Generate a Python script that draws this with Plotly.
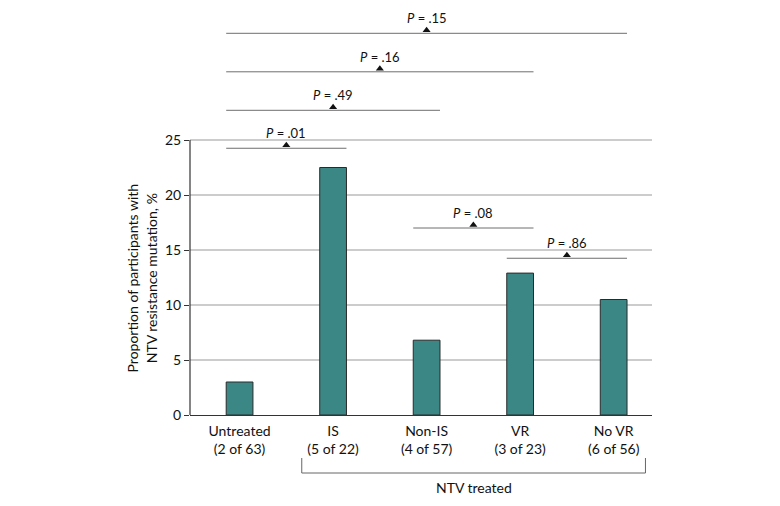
import plotly.graph_objects as go

categories = ["Untreated", "IS", "Non-IS", "VR", "No VR"]
counts = ["2 of 63", "5 of 22", "4 of 57", "3 of 23", "6 of 56"]
values = [3.0, 22.5, 6.8, 12.9, 10.5]

# comparisons: (left category index, right category index, bracket height, label)
comp_left = [0, 0, 0, 0, 2, 3]
comp_right = [1, 2, 3, 4, 3, 4]
comp_level = [24.25, 27.7, 31.2, 34.7, 17.0, 14.25]
comp_label = ["P = .01", "P = .49", "P = .16", "P = .15", "P = .08", "P = .86"]

y_ticks = [0, 5, 10, 15, 20, 25]
y_title = "Proportion of participants with<br>NTV resistance mutation, %"
group_label = "NTV treated"
group_first, group_last = 1, 4

FONT = "Lato, 'Open Sans', sans-serif"
BAR = "#3b8785"
BW = 0.286
XMIN, XMAX = -0.53, 4.41
YMAX = 400 / 11

xs = list(range(len(categories)))
fig = go.Figure()
fig.add_trace(go.Bar(x=xs, y=values, width=BW, marker=dict(color=BAR, line=dict(color="#2a2a2a", width=1)),
                     hoverinfo="skip"))

for l, r, lev, lab in zip(comp_left, comp_right, comp_level, comp_label):
    x0, x1 = l - BW / 2, r + BW / 2
    mid = (x0 + x1) / 2
    fig.add_trace(go.Scatter(x=[x0, x1], y=[lev, lev], mode="lines",
                             line=dict(color="#6e6e6e", width=1), hoverinfo="skip"))
    fig.add_trace(go.Scatter(x=[mid], y=[lev + 0.27], mode="markers",
                             marker=dict(symbol="triangle-up", size=7, color="#111"),
                             cliponaxis=False, hoverinfo="skip"))
    p, rest = lab.split(" ", 1)
    fig.add_annotation(x=mid, y=lev, yshift=15, text=f"<i>{p}</i> {rest}", showarrow=False,
                       font=dict(size=13, color="#111", family=FONT), xanchor="center", yanchor="middle")

# y axis line from 0 to 25 only
fig.add_shape(type="line", xref="paper", yref="paper", x0=0, x1=0, y0=0, y1=y_ticks[-1] / YMAX,
              line=dict(color="#333", width=1.2))

# NTV treated bracket
def px(v):
    return (v - XMIN) / (XMAX - XMIN)

gx0, gx1 = px(group_first - 0.335), px(group_last + 0.34)
ytop, ybot = -0.1075, -0.145
fig.add_shape(type="path", xref="paper", yref="paper",
              path=f"M {gx0} {ytop} L {gx0} {ybot} L {gx1} {ybot} L {gx1} {ytop}",
              line=dict(color="#666", width=1))
fig.add_annotation(xref="paper", yref="paper", x=(gx0 + gx1) / 2, y=-0.18, text=group_label,
                   showarrow=False, font=dict(size=14, color="#111", family=FONT), yanchor="middle")

fig.add_annotation(xref="paper", yref="y", x=-0.104, y=12.5, text=y_title, textangle=-90,
                   showarrow=False, font=dict(size=14, color="#111", family=FONT),
                   xanchor="center", yanchor="middle")

fig.update_layout(
    width=764, height=490, margin=dict(l=182, r=120, t=7, b=83),
    plot_bgcolor="white", paper_bgcolor="white", showlegend=False,
    font=dict(family=FONT, size=14, color="#111"),
    xaxis=dict(range=[XMIN, XMAX], tickvals=xs,
               ticktext=[f"{c}<br>({n})" for c, n in zip(categories, counts)],
               showgrid=False, zeroline=False, showline=True, linecolor="#333", linewidth=1.2,
               ticks="", ticklabelstandoff=3, tickfont=dict(size=14, color="#111")),
    yaxis=dict(range=[0, YMAX], tickvals=y_ticks, showgrid=True, gridcolor="#cccccc", gridwidth=1.5,
               zeroline=False, showline=False, ticks="outside", ticklen=5, tickcolor="#333",
               tickfont=dict(size=14, color="#111")),
)

fig.write_html("out.html")
